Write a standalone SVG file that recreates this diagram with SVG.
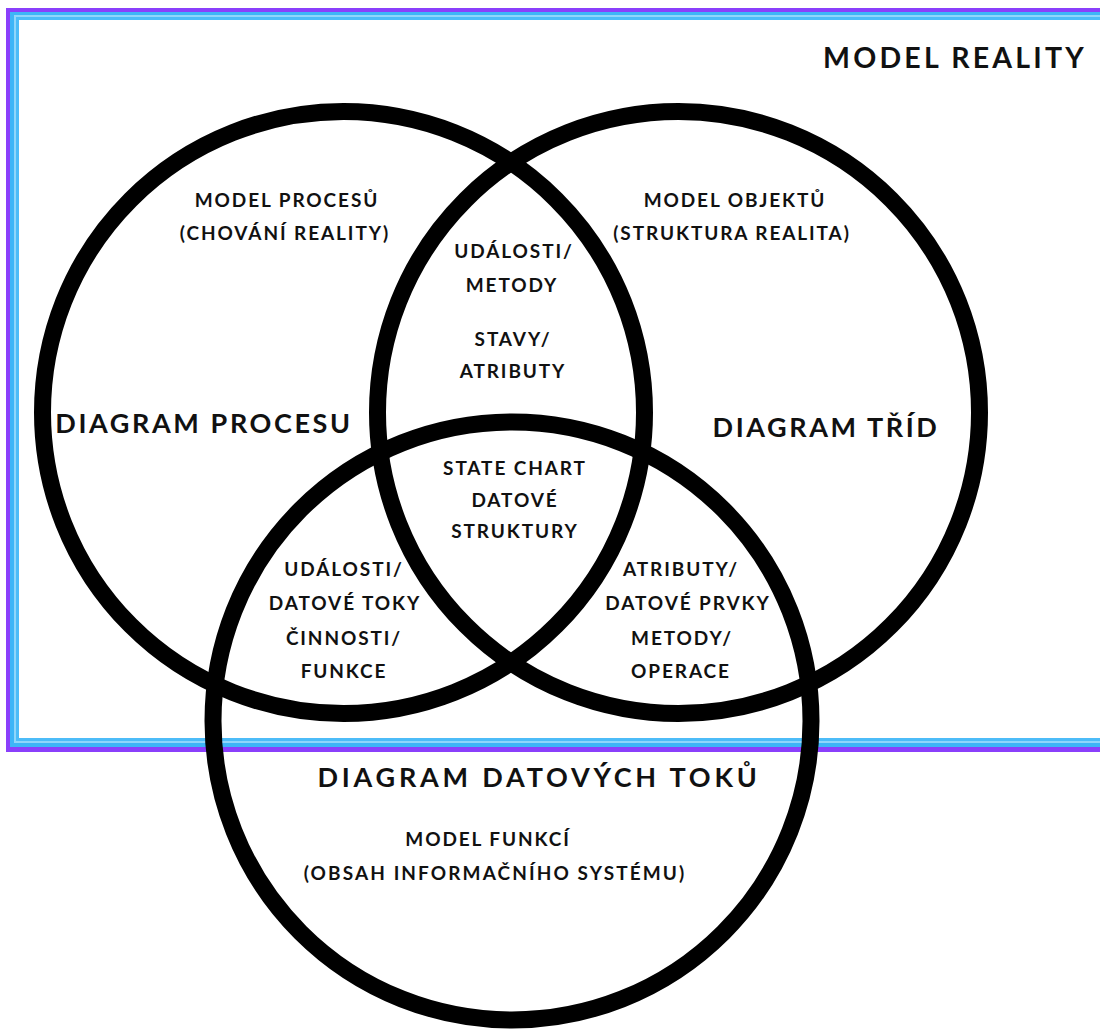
<svg xmlns="http://www.w3.org/2000/svg" width="1100" height="1030" viewBox="0 0 1100 1030">
<style>
.t{font-family:"Lato","Liberation Sans",sans-serif;font-weight:bold;fill:#111;text-anchor:middle}
.big{font-size:27px;letter-spacing:2.6px}
.sm{font-size:19px;letter-spacing:1.9px}
.ring{fill:none;stroke:#000;stroke-width:17}
</style>
<rect width="1100" height="1030" fill="#fff"/>
<g id="frame">
<rect x="6" y="8" width="1110" height="744" fill="#8a3ffb"/>
<rect x="10" y="12" width="1110" height="735" fill="#3db5f7"/>
<rect x="14" y="15" width="1110" height="728" fill="#8fd6fb"/>
<rect x="16" y="17" width="1110" height="724" fill="#4cbcf8"/>
<rect x="19" y="20" width="1110" height="718" fill="#fff"/>
<text class="t" x="955" y="68" style="font-size:28.5px;letter-spacing:3.2px">MODEL REALITY</text>
</g>
<g id="circles">
<circle id="c-proces" class="ring" cx="343.5" cy="412.5" r="301"/>
<circle id="c-tridy" class="ring" cx="678.5" cy="412.5" r="301"/>
<circle id="c-toky" class="ring" cx="512" cy="721" r="299"/>
</g>
<g id="proces">
<text class="t big" x="204" y="433">DIAGRAM PROCESU</text>
<text class="t sm" x="287" y="207">MODEL PROCESŮ</text>
<text class="t sm" x="285" y="240">(CHOVÁNÍ REALITY)</text>
</g>
<g id="tridy">
<text class="t big" x="826" y="437">DIAGRAM TŘÍD</text>
<text class="t sm" x="735" y="207">MODEL OBJEKTŮ</text>
<text class="t sm" x="732" y="240">(STRUKTURA REALITA)</text>
</g>
<g id="toky">
<text class="t big" x="539" y="787" style="letter-spacing:3.8px">DIAGRAM DATOVÝCH TOKŮ</text>
<text class="t sm" x="488" y="846">MODEL FUNKCÍ</text>
<text class="t sm" x="495" y="880" style="letter-spacing:2.1px">(OBSAH INFORMAČNÍHO SYSTÉMU)</text>
</g>
<g id="proces-tridy">
<text class="t sm" x="514" y="258">UDÁLOSTI/</text>
<text class="t sm" x="512" y="292">METODY</text>
<text class="t sm" x="513" y="346">STAVY/</text>
<text class="t sm" x="513" y="378">ATRIBUTY</text>
</g>
<g id="center">
<text class="t sm" x="515" y="475">STATE CHART</text>
<text class="t sm" x="515" y="507">DATOVÉ</text>
<text class="t sm" x="515" y="538">STRUKTURY</text>
</g>
<g id="proces-toky">
<text class="t sm" x="344" y="576">UDÁLOSTI/</text>
<text class="t sm" x="345" y="610">DATOVÉ TOKY</text>
<text class="t sm" x="344" y="645">ČINNOSTI/</text>
<text class="t sm" x="344" y="678">FUNKCE</text>
</g>
<g id="tridy-toky">
<text class="t sm" x="681" y="576">ATRIBUTY/</text>
<text class="t sm" x="688" y="610">DATOVÉ PRVKY</text>
<text class="t sm" x="682" y="645">METODY/</text>
<text class="t sm" x="681" y="678">OPERACE</text>
</g>
</svg>
